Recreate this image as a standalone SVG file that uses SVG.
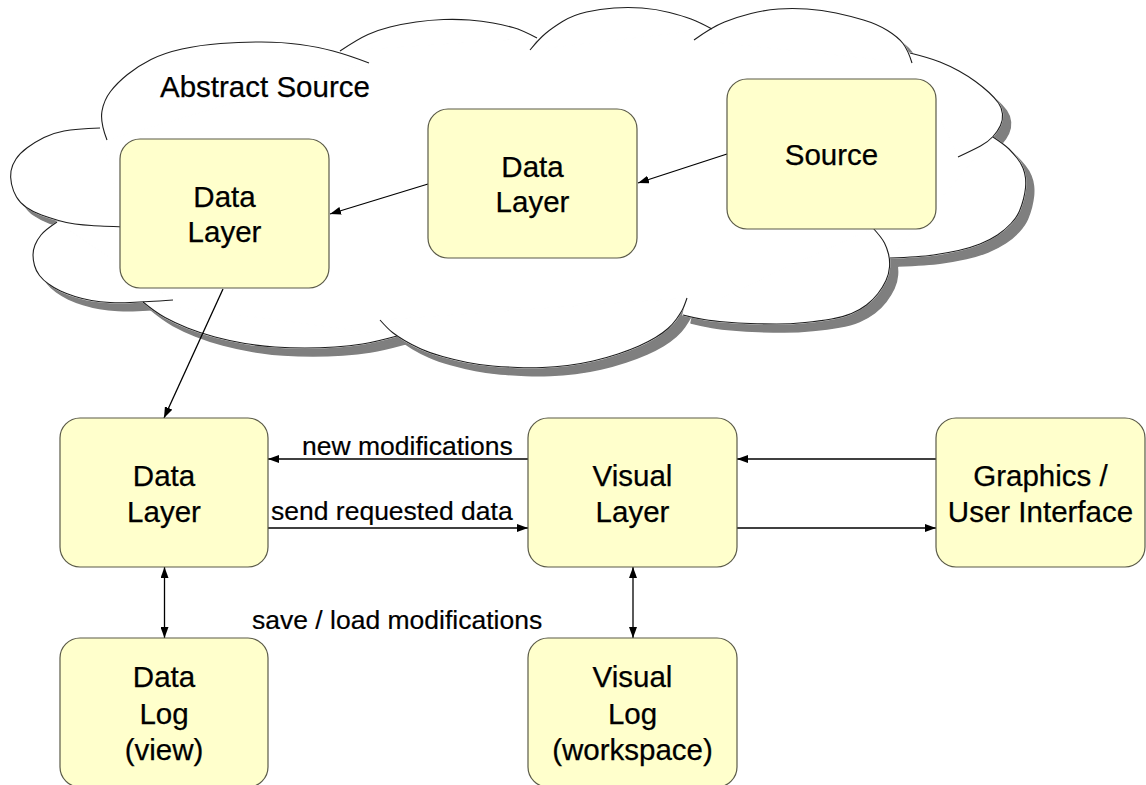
<svg xmlns="http://www.w3.org/2000/svg" xmlns:xlink="http://www.w3.org/1999/xlink" width="1146" height="785" viewBox="0 0 1146 785">
  <style>
    .box { fill: #ffffcc; stroke: #5a5a48; stroke-width: 1.2; }
    .lbl { font-family: "Liberation Sans", Arial, sans-serif; font-size: 29.5px; fill: #000; stroke: #000; stroke-width: 0.25; text-anchor: middle; }
    .edge-lbl { font-family: "Liberation Sans", Arial, sans-serif; font-size: 26.5px; fill: #000; stroke: #000; stroke-width: 0.2; }
    .title { font-family: "Liberation Sans", Arial, sans-serif; font-size: 29.5px; fill: #000; stroke: #000; stroke-width: 0.25; }
    .conn { fill: none; stroke: #000; stroke-width: 1.3; }
    .outline { fill: none; stroke: #1e1e1e; stroke-width: 1.1; }
  </style>
  <defs>
    <marker id="arrow" viewBox="0 0 11 8" refX="11" refY="4" markerWidth="11" markerHeight="8" markerUnits="userSpaceOnUse" orient="auto-start-reverse">
      <path d="M0,0 L11,4 L0,8 z" fill="#000"/>
    </marker>
    <!-- cloud lobes: each arc is drawn with its short inner tail -->
    <g id="lobes">
      <path d="M107,140 Q100,122 102,111 Q104,100 110.5,91.5 Q117,83 127.5,74.5 Q138,66 151,59.5 Q164,53 182,49 Q200,45 220.5,43.5 Q241,42 261.5,42 Q282,42 300,44.5 Q318,47 333,51 Q348,55 369,63"/>
      <path d="M340,51 Q358,39 368,34.5 Q378,30 390,27 Q402,24 416,22 Q430,20 443.5,19.5 Q457,19 469.5,20 Q482,21 493,23 Q504,25 513,27.5 Q522,30 537,38"/>
      <path d="M530,50 Q539,39 545.5,33.5 Q552,28 562.5,21.5 Q573,15 586.5,12 Q600,9 614,8 Q628,7 642,8 Q656,9 669.5,12.5 Q683,16 691,19 Q699,22 712,29"/>
      <path d="M694,40 Q712,27 724.5,22 Q737,17 751,13.5 Q765,10 778.5,9 Q792,8 807,9 Q822,10 836,13 Q850,16 863.5,20 Q877,24 887.5,30.5 Q898,37 903,43.5 Q908,50 912,63"/>
      <path d="M910,53 Q930,58 940,62 Q950,66 959,71 Q968,76 975.5,81.5 Q983,87 989,92.5 Q995,98 998.5,103 Q1002,108 1002.5,114 Q1003,120 1000.5,125.5 Q998,131 993,136.5 Q988,142 980.5,146 Q973,150 958,157"/>
      <path d="M993,137 Q1005,145 1009,149 Q1013,153 1017,158 Q1021,163 1023,168 Q1025,173 1025.5,178 Q1026,183 1025.5,188 Q1025,193 1023.5,199 Q1022,205 1019.5,211 Q1017,217 1011,223.5 Q1005,230 997.5,235 Q990,240 980,244 Q970,248 958.5,250.5 Q947,253 933.5,255 Q920,257 890,258"/>
      <path d="M873,228 Q882,238 884.5,243 Q887,248 888.5,254 Q890,260 889.5,267 Q889,274 886,280.5 Q883,287 878,293.5 Q873,300 866.5,305 Q860,310 851.5,313.5 Q843,317 831.5,319 Q820,321 805,322.5 Q790,324 776.5,324 Q763,324 750.5,323.5 Q738,323 725.5,322 Q713,321 704,319.5 Q695,318 683,315"/>
      <path d="M687,298 Q684,307 682,310.5 Q680,314 676.5,319 Q673,324 668,328.5 Q663,333 655.5,337.5 Q648,342 639,346 Q630,350 618,354 Q606,358 593,361 Q580,364 567.5,365.5 Q555,367 542.5,367.5 Q530,368 517.5,367.5 Q505,367 492.5,366 Q480,365 467.5,362.5 Q455,360 442.5,356.5 Q430,353 421,349 Q412,345 404.5,340.5 Q397,336 392.5,332.5 Q388,329 380,320"/>
      <path d="M143,302 Q155,312 165,317.5 Q175,323 187.5,328 Q200,333 215,337 Q230,341 245,343.5 Q260,346 275,347 Q290,348 305,348 Q320,348 335,347 Q350,346 362.5,344 Q375,342 397,336"/>
      <path d="M57,222 Q45,230 41,235 Q37,240 35,245 Q33,250 33,255 Q33,260 34.5,265.5 Q36,271 39.5,275.5 Q43,280 48.5,284 Q54,288 60.5,291 Q67,294 75,296.5 Q83,299 91.5,300.5 Q100,302 110,302.5 Q120,303 130,302.5 Q140,302 149,301.5 Q158,301 173,300"/>
      <path d="M100,128 Q75,129 64,131 Q53,133 44,137.5 Q35,142 27.5,147.5 Q20,153 16,159 Q12,165 11,171 Q10,177 11.5,184 Q13,191 16.5,197 Q20,203 26.5,207.5 Q33,212 41.5,215 Q50,218 58.5,220.5 Q67,223 75,224 Q83,225 91.5,225.5 Q100,226 125,227"/>
    </g>
    <!-- inner body: runs along every lobe chord so the lobes and body share edges -->
    <polygon id="cloudCore" points="107,140 369,63 340,51 537,38 530,50 712,29 694,40 912,63 910,53 958,157 993,137 890,258 873,228 683,315 687,298 380,320 397,336 143,302 173,300 57,222 125,227 100,128"/>
  </defs>

  <rect width="1146" height="785" fill="#fff"/>

  <!-- Abstract Source cloud with drop shadow -->
  <g id="cloud">
    <g transform="translate(8,8)" fill="#7f7f7f" stroke="#7f7f7f" stroke-width="1.5" stroke-linejoin="round">
      <use xlink:href="#lobes"/>
      <use xlink:href="#cloudCore"/>
    </g>
    <g fill="#fff" stroke="#fff" stroke-width="1.5" stroke-linejoin="round">
      <use xlink:href="#lobes"/>
      <use xlink:href="#cloudCore"/>
    </g>
    <use xlink:href="#lobes" class="outline"/>
    <text x="160" y="97" class="title">Abstract Source</text>
  </g>

  <!-- connectors -->
  <g id="connectors">
    <line class="conn" x1="727" y1="154" x2="638" y2="183" marker-end="url(#arrow)"/>
    <line class="conn" x1="428" y1="184" x2="330" y2="214" marker-end="url(#arrow)"/>
    <line class="conn" x1="223" y1="289" x2="164" y2="418" marker-end="url(#arrow)"/>
    <line class="conn" x1="528" y1="459" x2="268" y2="459" marker-end="url(#arrow)"/>
    <line class="conn" x1="268" y1="528" x2="528" y2="528" marker-end="url(#arrow)"/>
    <line class="conn" x1="936" y1="459" x2="737" y2="459" marker-end="url(#arrow)"/>
    <line class="conn" x1="737" y1="528" x2="936" y2="528" marker-end="url(#arrow)"/>
    <line class="conn" x1="164.5" y1="567" x2="164.5" y2="638" marker-start="url(#arrow)" marker-end="url(#arrow)"/>
    <line class="conn" x1="633" y1="567" x2="633" y2="638" marker-start="url(#arrow)" marker-end="url(#arrow)"/>
    <text class="edge-lbl" x="302" y="455">new modifications</text>
    <text class="edge-lbl" x="271" y="520">send requested data</text>
    <text class="edge-lbl" x="252" y="629">save / load modifications</text>
  </g>

  <!-- nodes -->
  <g id="source-data-layer-a">
    <rect class="box" x="120" y="139" width="209" height="149" rx="20"/>
    <text class="lbl" x="224.5" y="207">Data</text>
    <text class="lbl" x="224.5" y="242">Layer</text>
  </g>
  <g id="source-data-layer-b">
    <rect class="box" x="428" y="109" width="209" height="149" rx="20"/>
    <text class="lbl" x="532.5" y="177">Data</text>
    <text class="lbl" x="532.5" y="212">Layer</text>
  </g>
  <g id="source">
    <rect class="box" x="727" y="79" width="209" height="150" rx="20"/>
    <text class="lbl" x="831.5" y="165">Source</text>
  </g>
  <g id="data-layer">
    <rect class="box" x="60" y="418" width="208" height="149" rx="20"/>
    <text class="lbl" x="164" y="486">Data</text>
    <text class="lbl" x="164" y="522">Layer</text>
  </g>
  <g id="visual-layer">
    <rect class="box" x="528" y="418" width="209" height="149" rx="20"/>
    <text class="lbl" x="632.5" y="486">Visual</text>
    <text class="lbl" x="632.5" y="522">Layer</text>
  </g>
  <g id="graphics-ui">
    <rect class="box" x="936" y="418" width="209" height="149" rx="20"/>
    <text class="lbl" x="1040.5" y="486">Graphics /</text>
    <text class="lbl" x="1040.5" y="522">User Interface</text>
  </g>
  <g id="data-log">
    <rect class="box" x="60" y="638" width="208" height="149" rx="20"/>
    <text class="lbl" x="164" y="687">Data</text>
    <text class="lbl" x="164" y="724">Log</text>
    <text class="lbl" x="164" y="760">(view)</text>
  </g>
  <g id="visual-log">
    <rect class="box" x="528" y="638" width="209" height="149" rx="20"/>
    <text class="lbl" x="632.5" y="687">Visual</text>
    <text class="lbl" x="632.5" y="724">Log</text>
    <text class="lbl" x="632.5" y="760">(workspace)</text>
  </g>
</svg>
